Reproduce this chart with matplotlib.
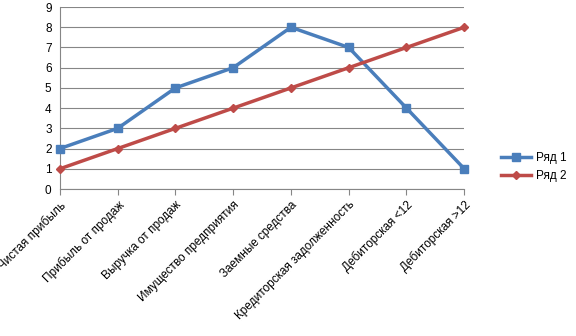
import matplotlib
matplotlib.use('Agg')
import matplotlib.pyplot as plt

categories = ['Чистая прибыль', 'Прибыль от продаж', 'Выручка от продаж',
              'Имущество предприятия', 'Заемные средства',
              'Кредиторская задолженность', 'Дебиторская <12', 'Дебиторская >12']
row1 = [2, 3, 5, 6, 8, 7, 4, 1]
row2 = [1, 2, 3, 4, 5, 6, 7, 8]

plt.rcParams['font.family'] = ['Liberation Sans', 'DejaVu Sans']

fig = plt.figure(figsize=(5.76, 3.36), dpi=100)
ax = fig.add_axes([0.104, 0.4375, 0.702, 0.5415])

x = list(range(len(categories)))
ax.plot(x, row1, color='#4A7EBB', lw=2.5, marker='s', ms=6, label='Ряд 1', clip_on=False, zorder=3)
ax.plot(x, row2, color='#BE4B48', lw=2.5, marker='D', ms=4, label='Ряд 2', clip_on=False, zorder=3)

ax.set_xlim(0, len(categories) - 1)
ax.set_ylim(0, 9)
ax.set_yticks(range(10))
ax.set_xticks(x)
ax.set_xticklabels(categories, rotation=45, ha='right', rotation_mode='anchor', fontsize=8.5)
ax.tick_params(axis='y', labelsize=8.5, length=0, pad=6)
ax.tick_params(axis='x', length=4, color='#868686', pad=3)
ax.grid(axis='y', color='#868686', lw=0.8)
ax.set_axisbelow(True)
for s in ['top', 'right']:
    ax.spines[s].set_visible(False)
ax.spines['left'].set_color('#868686')
ax.spines['bottom'].set_color('#868686')

ax.legend(loc='center left', bbox_to_anchor=(1.09, 0.12), frameon=False, fontsize=8.5,
          handlelength=2.6, handletextpad=0.4, borderpad=0, borderaxespad=0,
          labelspacing=0.5)

fig.savefig('out.png', dpi=100)
